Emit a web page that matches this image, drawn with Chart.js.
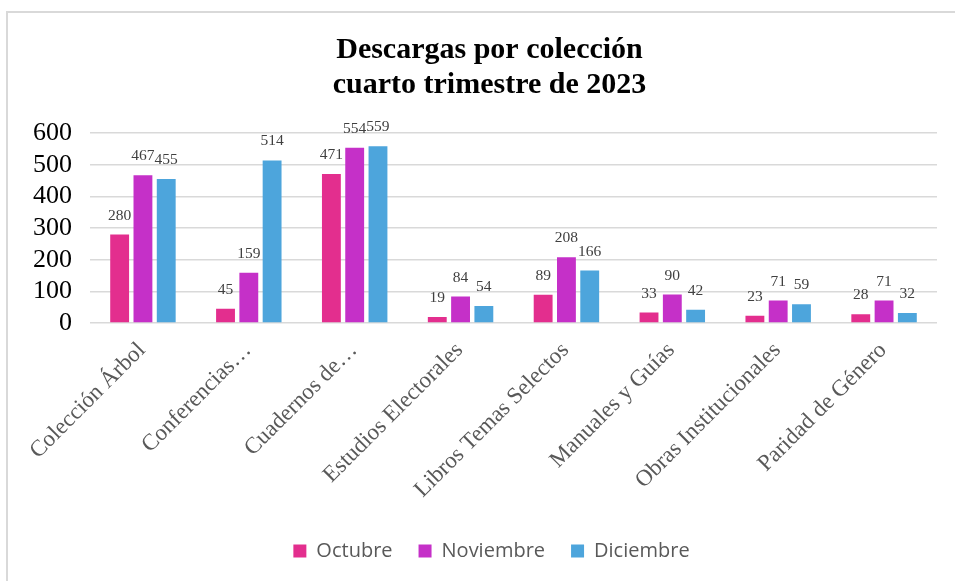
<!DOCTYPE html>
<html>
<head>
<meta charset="utf-8">
<script src="https://cdn.jsdelivr.net/npm/chart.js@4"></script>
<style>
  html, body { margin: 0; padding: 0; background: #fff; }
  #wrap { width: 955px; height: 581px; }
</style>
</head>
<body>
<div id="wrap"><canvas id="descargasChart" width="955" height="581"></canvas></div>
<script>
const categories = ['Colección Árbol', 'Conferencias…', 'Cuadernos de…', 'Estudios Electorales',
    'Libros Temas Selectos', 'Manuales y Guías', 'Obras Institucionales', 'Paridad de Género'];
const octubre = [280, 45, 471, 19, 89, 33, 23, 28];
const noviembre = [467, 159, 554, 84, 208, 90, 71, 71];
const diciembre = [455, 514, 559, 54, 166, 42, 59, 32];
const yTicks = [0, 100, 200, 300, 400, 500, 600];

const serif = "'Liberation Serif', 'Times New Roman', serif";

// draws the value above each bar
const valueLabels = {
    id: 'valueLabels',
    afterDatasetsDraw(chart) {
        const ctx = chart.ctx;
        ctx.save();
        ctx.font = '15.5px ' + serif;
        ctx.fillStyle = '#404040';
        ctx.textAlign = 'center';
        ctx.textBaseline = 'middle';
        chart.data.datasets.forEach(function (ds, i) {
            chart.getDatasetMeta(i).data.forEach(function (bar, j) {
                ctx.fillText(ds.data[j], bar.x, bar.y - 19);
            });
        });
        ctx.restore();
    }
};

// the chart box is cut off: only its top and left edges show
const frame = {
    id: 'frame',
    afterLayout(chart) {
        // title and legend sit a little right of the canvas centre
        chart.legend.left += 8;
        chart.legend.right += 8;
        chart.titleBlock.left += 6;
        chart.titleBlock.right += 6;
    },
    beforeDraw(chart) {
        const ctx = chart.ctx;
        ctx.save();
        ctx.strokeStyle = '#d9d9d9';
        ctx.lineWidth = 2;
        ctx.beginPath();
        ctx.moveTo(955, 12);
        ctx.lineTo(7, 12);
        ctx.lineTo(7, 581);
        ctx.stroke();
        ctx.restore();
    }
};

document.addEventListener('DOMContentLoaded', function () {
    const ctx = document.getElementById('descargasChart').getContext('2d');
    new Chart(ctx, {
        type: 'bar',
        data: {
            labels: categories,
            datasets: [
                { label: 'Octubre', data: octubre, backgroundColor: '#E32E8E' },
                { label: 'Noviembre', data: noviembre, backgroundColor: '#C530C8' },
                { label: 'Diciembre', data: diciembre, backgroundColor: '#4DA5DC' },
            ],
        },
        options: {
            responsive: false,
            animation: false,
            layout: { padding: { left: 30, right: 18, top: 0, bottom: 10 } },
            datasets: { bar: { categoryPercentage: 0.66, barPercentage: 0.81 } },
            scales: {
                x: {
                    grid: { display: false },
                    border: { display: false },
                    // let the rotated labels run out past the plot's left edge
                    afterFit(axis) {
                        axis.paddingLeft = 0;
                        axis.paddingRight = 0;
                        axis.height = 192;
                    },
                    ticks: {
                        minRotation: 45,
                        maxRotation: 45,
                        autoSkip: false,
                        padding: 6,
                        labelOffset: -1,
                        color: '#595959',
                        font: { family: serif, size: 23 },
                    },
                },
                y: {
                    min: 0,
                    max: 600,
                    afterBuildTicks(axis) { axis.ticks = yTicks.map(v => ({ value: v })); },
                    afterFit(axis) { axis.width = 60; },
                    grid: { color: '#d9d9d9', lineWidth: 1.5, drawTicks: false },
                    border: { display: false },
                    ticks: {
                        autoSkip: false,
                        padding: 18,
                        color: '#000',
                        font: { family: serif, size: 26 },
                    },
                },
            },
            plugins: {
                title: {
                    display: true,
                    text: ['Descargas por colección', 'cuarto trimestre de 2023'],
                    color: '#000',
                    font: { family: serif, size: 30, weight: 'bold', lineHeight: 1.17 },
                    padding: { top: 33, bottom: 30 },
                },
                legend: {
                    position: 'bottom',
                    labels: {
                        boxWidth: 13,
                        boxHeight: 13,
                        padding: 26,
                        color: '#595959',
                        font: { family: "'Open Sans', sans-serif", size: 20 },
                    },
                },
                tooltip: { enabled: false },
            },
        },
        plugins: [valueLabels, frame],
    });
});
</script>
</body>
</html>
